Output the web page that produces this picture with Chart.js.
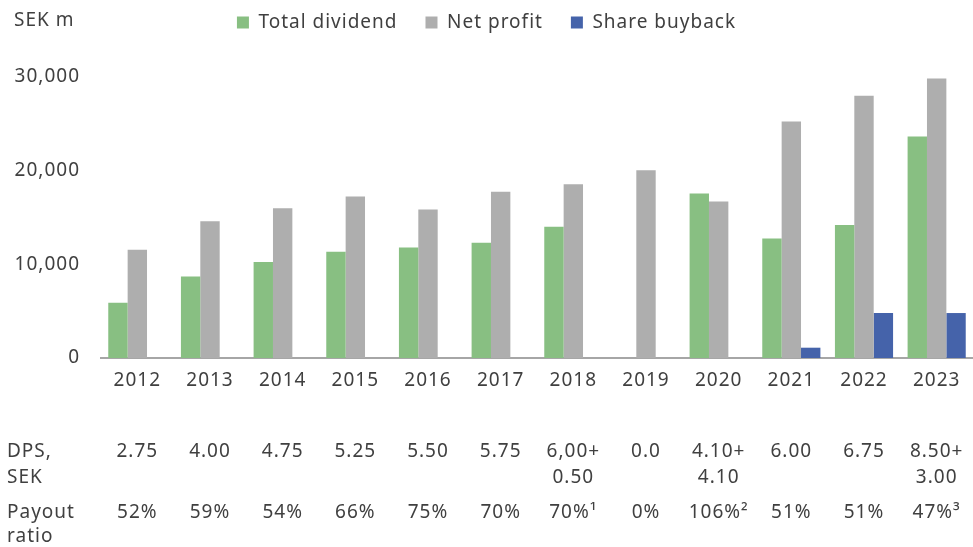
<!DOCTYPE html>
<html>
<head>
<meta charset="utf-8">
<script src="https://cdn.jsdelivr.net/npm/chart.js@4.4.1/dist/chart.umd.min.js"></script>
<style>
  html, body { margin: 0; padding: 0; background: #fff; }
  #wrap { width: 973px; height: 547px; }
</style>
</head>
<body>
<div id="wrap"><canvas id="payoutChart" width="973" height="547"></canvas></div>
<script>
// data (SEK m)
const years = ['2012', '2013', '2014', '2015', '2016', '2017', '2018', '2019', '2020', '2021', '2022', '2023'];
const totalDividend = [5900, 8700, 10250, 11350, 11800, 12300, 14000, 0, 17550, 12750, 14200, 23650];
const netProfit = [11550, 14600, 16000, 17250, 15850, 17750, 18550, 20050, 16700, 25250, 28000, 29850];
const shareBuyback = [0, 0, 0, 0, 0, 0, 0, 0, 0, 1100, 4800, 4800];
const yTicks = [0, 10000, 20000, 30000];

// table under the chart
const dpsLine1 = ['2.75', '4.00', '4.75', '5.25', '5.50', '5.75', '6,00+', '0.0', '4.10+', '6.00', '6.75', '8.50+'];
const dpsLine2 = ['', '', '', '', '', '', '0.50', '', '4.10', '', '', '3.00'];
const payoutRatio = ['52%', '59%', '54%', '66%', '75%', '70%', '70%\u00b9', '0%', '106%\u00b2', '51%', '51%', '47%\u00b3'];

const textColor = '#404040';
const fontFamily = "'Noto Sans', sans-serif";

Chart.defaults.font.family = fontFamily;
Chart.defaults.color = textColor;

// the reference font is wide, so space the letters a little
const spacingPlugin = {
    id: 'spacingPlugin',
    beforeUpdate(chart) { chart.ctx.letterSpacing = '1px'; },
    beforeDraw(chart) { chart.ctx.letterSpacing = '1px'; }
};

// draws the unit label and the DPS / payout table
const tablePlugin = {
    id: 'tablePlugin',
    afterDraw(chart) {
        const ctx = chart.ctx;
        const x = chart.scales.x;
        ctx.save();
        ctx.fillStyle = textColor;
        ctx.font = '19px ' + fontFamily;
        ctx.textBaseline = 'middle';

        ctx.textAlign = 'left';
        ctx.fillText('SEK m', 14, 21);
        ctx.fillText('DPS,', 7, 452);
        ctx.fillText('SEK', 7, 478);
        ctx.fillText('Payout', 7, 513);
        ctx.fillText('ratio', 7, 537);

        ctx.textAlign = 'center';
        years.forEach((y, i) => {
            const cx = x.getPixelForValue(i);
            ctx.fillText(dpsLine1[i], cx, 452);
            if (dpsLine2[i]) ctx.fillText(dpsLine2[i], cx, 478);
            ctx.fillText(payoutRatio[i], cx, 513);
        });
        ctx.restore();
    }
};

const ctx = document.getElementById('payoutChart').getContext('2d');
new Chart(ctx, {
    type: 'bar',
    data: {
        labels: years,
        datasets: [
            { label: 'Total dividend', data: totalDividend, backgroundColor: '#88bf82' },
            { label: 'Net profit', data: netProfit, backgroundColor: '#aeaeae' },
            { label: 'Share buyback', data: shareBuyback, backgroundColor: '#4563aa' }
        ]
    },
    options: {
        responsive: false,
        animation: false,
        devicePixelRatio: 1,
        layout: { padding: { top: -15, right: 0, bottom: 0, left: 0 } },
        datasets: {
            bar: { categoryPercentage: 0.8, barPercentage: 1.0, borderWidth: 0 }
        },
        scales: {
            x: {
                grid: { display: false, drawTicks: false },
                border: { display: true, color: '#a6a6a6', width: 2 },
                ticks: { font: { size: 19 }, color: textColor, padding: 11, maxRotation: 0 },
                afterFit(scale) { scale.height = 189; }
            },
            y: {
                min: 0,
                max: 30000,
                grid: { display: false, drawTicks: false },
                border: { display: false },
                afterBuildTicks(scale) { scale.ticks = yTicks.map(v => ({ value: v })); },
                ticks: {
                    font: { size: 19 },
                    color: textColor,
                    padding: 21,
                    callback: v => v.toLocaleString('en-US')
                },
                afterFit(scale) { scale.width = 101; }
            }
        },
        plugins: {
            legend: {
                position: 'top',
                labels: {
                    boxWidth: 12,
                    boxHeight: 12,
                    padding: 28,
                    color: textColor,
                    font: { size: 19 }
                }
            },
            // empty spacer placed between the legend and the plot
            title: {
                display: true,
                text: '',
                weight: 500,
                font: { size: 10, lineHeight: 1 },
                padding: { top: 25, bottom: 0 }
            },
            tooltip: { enabled: false }
        }
    },
    plugins: [spacingPlugin, tablePlugin]
});
</script>
</body>
</html>
